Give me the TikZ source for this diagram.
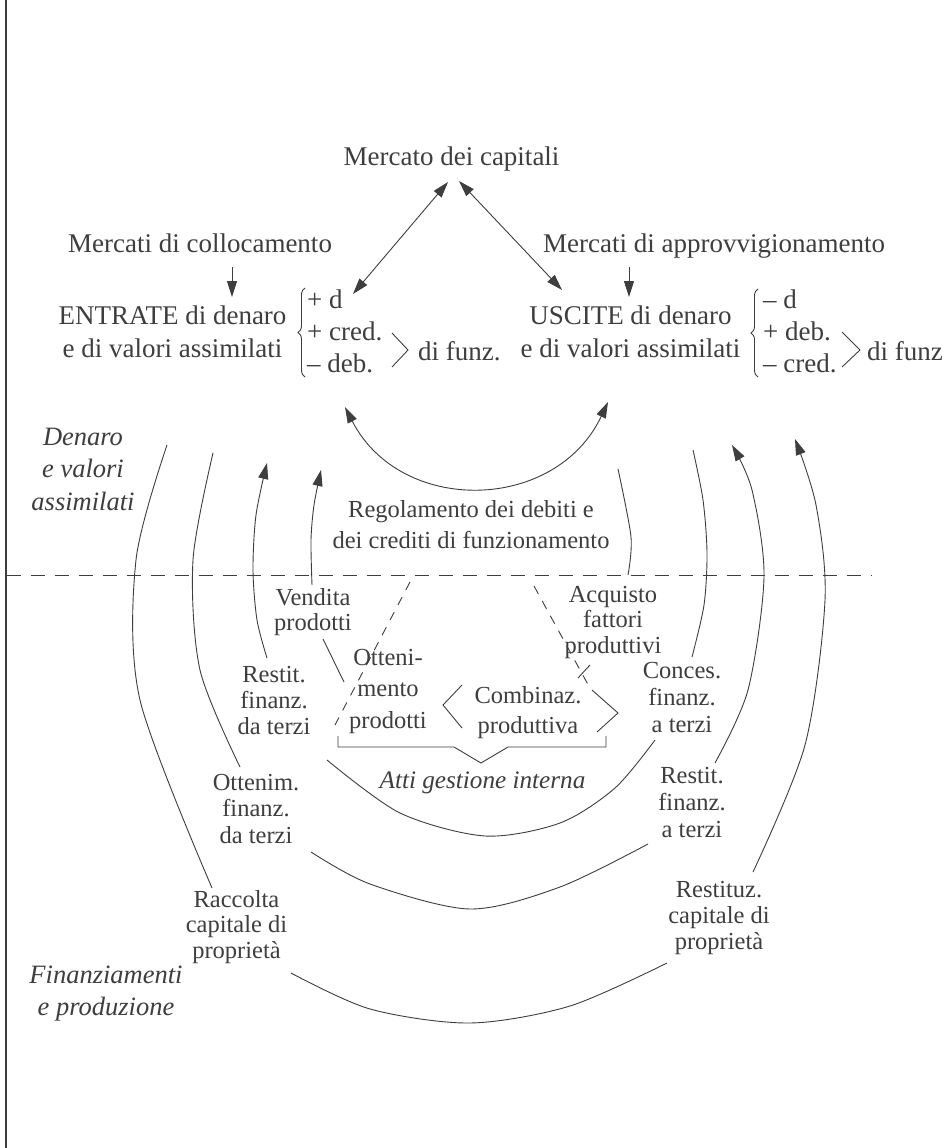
\documentclass[tikz,border=0pt]{standalone}
\usepackage{fontspec}
\setmainfont{Liberation Serif}
\usetikzlibrary{arrows.meta,decorations.pathreplacing}
\definecolor{ink}{RGB}{62,62,62}
\newcommand\cstack[1]{\vtop{\halign{\hfil##\hfil\cr#1\crcr}}}
\newcommand\lstack[1]{\vtop{\halign{##\hfil\cr#1\crcr}}}
\begin{document}
\begin{tikzpicture}[x=1pt,y=-1pt,
  every node/.style={inner sep=0pt,text=ink},
  big/.style={font=\fontsize{27}{#1}\selectfont},
  big/.default=33,
  lab/.style={font=\fontsize{24.5}{#1}\selectfont},
  lab/.default=26,
  itl/.style={font=\fontsize{26.5}{#1}\selectfont\itshape},
  itl/.default=32.5,
  ln/.style={draw=ink,line width=0.9pt},
  tip/.style={-{Triangle[length=16pt,width=10pt]}},
  dtip/.style={{Triangle[length=16pt,width=10pt]}-{Triangle[length=16pt,width=10pt]}},
  hdash/.style={dash pattern=on 14pt off 10pt},
  ddash/.style={dash pattern=on 9pt off 8pt}]
\useasboundingbox (0,0) rectangle (942,1148);
\fill[white] (0,0) rectangle (942,1148);
% frame line
\coordinate (fr0) at (6,0); \coordinate (fr1) at (6,1148);
\draw[draw=ink,line width=1.2pt] (fr0) -- (fr1);

% top texts
\node[big,anchor=base] (mc) at (451.5,165) {Mercato dei capitali};
\node[big,anchor=base] (mcol) at (200,252) {Mercati di collocamento};
\node[big,anchor=base] (mapp) at (714,252) {Mercati di approvvigionamento};
\node[big,anchor=base] (ent) at (172.5,324) {\cstack{ENTRATE di denaro\cr e di valori assimilati}};
\node[big=32,anchor=base west] (entv) at (307,308) {\lstack{+ d\cr + cred.\cr – deb.}};
\node[big,anchor=base west] (entf) at (418,360) {di funz.};
\node[big,anchor=base] (usc) at (630.5,324) {\cstack{USCITE di denaro\cr e di valori assimilati}};
\node[big=32,anchor=base west] (uscv) at (763,308) {\lstack{– d\cr + deb.\cr – cred.}};
\node[big,anchor=base west] (uscf) at (867,360) {di funz.};

% braces and chevrons
\draw[ln,decorate,decoration={brace,amplitude=7pt}] (305,377) -- (305,288);
\draw[ln,decorate,decoration={brace,amplitude=7pt}] (758,377) -- (758,289);
\draw[ln] (392,333) -- (408,350) -- (392,367);
\draw[ln] (842,332) -- (860,350) -- (842,367);

% arrows at top
\coordinate (mcL) at (448,182); \coordinate (entT) at (353,294);
\coordinate (mcR) at (459,181); \coordinate (uscT) at (562,290);
\draw[ln,dtip] (mcL) -- (entT);
\draw[ln,dtip] (mcR) -- (uscT);
\coordinate (mcolB) at (232,267); \coordinate (entA) at (232,297);
\coordinate (mappB) at (629,267); \coordinate (uscA) at (629,297);
\draw[ln,tip] (mcolB) -- (entA);
\draw[ln,tip] (mappB) -- (uscA);

% regolamento arc
\coordinate (rg1) at (345,407); \coordinate (rg2) at (608,402);
\draw[ln,dtip] (rg1) .. controls (400.8,515.6) and (555.8,512.5) .. (rg2);

% labels
\node[itl,anchor=base] (den) at (83,445) {\cstack{Denaro\cr e valori\cr assimilati}};
\node[itl=32,anchor=base] (fin) at (106,983) {\cstack{Finanziamenti\cr e produzione}};
\node[lab=31,anchor=base] (reg) at (471,517) {\cstack{Regolamento dei debiti e\cr dei crediti di funzionamento}};
\node[lab=25,anchor=base] (ven) at (313,605) {\cstack{Vendita\cr prodotti}};
\node[lab=25.5,anchor=base] (acq) at (613,602) {\cstack{Acquisto\cr fattori\cr produttivi}};
\node[lab,anchor=base] (rsd) at (274,682) {\cstack{Restit.\cr finanz.\cr da terzi}};
\node[lab=31.5,anchor=base] (ott) at (388,665) {\cstack{Otteni-\cr mento\cr prodotti}};
\node[lab=30,anchor=base] (comb) at (528,703) {\cstack{Combinaz.\cr produttiva}};
\node[lab=27,anchor=base] (con) at (682,678) {\cstack{Conces.\cr finanz.\cr a terzi}};
\node[font=\fontsize{25.2}{30}\selectfont\itshape,anchor=base] (atti) at (482.5,788) {Atti gestione interna};
\node[lab=26.5,anchor=base] (otf) at (256,790) {\cstack{Ottenim.\cr finanz.\cr da terzi}};
\node[lab=27,anchor=base] (rsa) at (692,783) {\cstack{Restit.\cr finanz.\cr a terzi}};
\node[lab=25.5,anchor=base] (rac) at (236.5,907) {\cstack{Raccolta\cr capitale di\cr proprietà}};
\node[lab=26,anchor=base] (rcp) at (719,897) {\cstack{Restituz.\cr capitale di\cr proprietà}};

% dashed lines
\coordinate (dh0) at (7,575); \coordinate (dh1) at (872,575);
\draw[ln,hdash] (dh0) -- (dh1);
\coordinate (dl0) at (410,582); \coordinate (dl1) at (335,725);
\draw[ln,ddash] (dl0) -- (dl1);
\coordinate (dr0) at (534,586); \coordinate (dr1) at (591,690);
\draw[ln,ddash] (dr0) -- (dr1);

% chevrons around Combinaz. and bracket
\draw[ln] (462,685) -- (443,705) -- (462,728);
\draw[ln] (592,690) -- (618,713) -- (597,732);
\draw[ln] (590,665) -- (578,678);
\draw[ln] (338,736) -- (338,747) -- (454,747) -- (481,763) -- (508,747) -- (606,747) -- (606,736);

% outer loop
\draw[ln] plot[smooth] coordinates {(167,445) (136,560) (140,700) (212,888)};
\draw[ln] plot[smooth] coordinates {(291,973) (370,1009) (470,1023) (570,1006) (667,963)};
\draw[ln,tip] plot[smooth] coordinates {(753,872) (805,745) (825,600) (816,505) (795,439)};
% second loop
\draw[ln] plot[smooth] coordinates {(213,453) (193,560) (200,670) (240,767)};
\draw[ln] plot[smooth] coordinates {(311,852) (370,884) (470,909) (560,887) (648,844)};
\draw[ln,tip] plot[smooth] coordinates {(715,763) (748,690) (764,577) (752,490) (732,445)};
% third loop
\draw[ln] plot[smooth] coordinates {(693,450) (703,500) (707,553) (704,605) (692,657)};
\draw[ln] plot[smooth] coordinates {(327,760) (400,813) (485,836) (560,823) (615,788) (655,740)};
\draw[ln,tip] plot[smooth] coordinates {(267,658) (257,620) (253,570) (256,515) (267,463)};
% inner loop
\draw[ln] plot[smooth] coordinates {(618,469) (631,537) (628,575)};
\draw[ln] (323,639) -- (344,682);
\draw[ln,tip] plot[smooth] coordinates {(312,585) (311,540) (314,505) (321,470)};
\end{tikzpicture}
\end{document}
